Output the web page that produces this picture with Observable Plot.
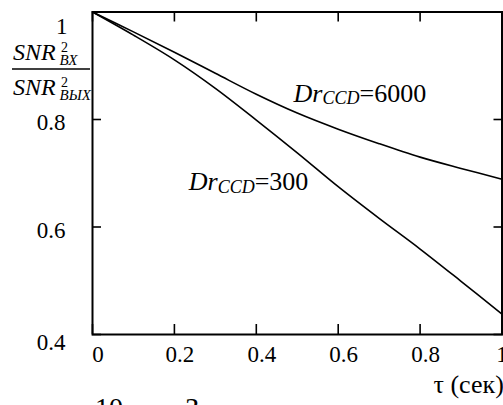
<!DOCTYPE html>
<html>
<head>
<meta charset="utf-8">
<script src="https://cdn.jsdelivr.net/npm/d3@7"></script>
<script src="https://cdn.jsdelivr.net/npm/@observablehq/plot@0.6"></script>
<style>
  html, body { margin: 0; padding: 0; background: #fff; }
  #chart svg { display: block; }
</style>
</head>
<body>
<div id="chart"></div>
<script>
// ---- data ----
const tau     = [0, 0.1, 0.2, 0.3, 0.4, 0.5, 0.6, 0.7, 0.8, 0.9, 1];
const snr300  = [1, 0.957, 0.911, 0.858, 0.799, 0.738, 0.675, 0.616, 0.559, 0.499, 0.438];
const snr6000 = [1, 0.963, 0.925, 0.886, 0.847, 0.812, 0.782, 0.755, 0.730, 0.709, 0.689];
const seriesValues = ["300", "6000"];
const xTicks = [0, 0.2, 0.4, 0.6, 0.8, 1];
const yTicks = [0.4, 0.6, 0.8, 1];
// annotation anchors (data coordinates)
const annotTau = [0.235, 0.491];
const annotSnr = [0.668, 0.833];

const serif = "'Liberation Serif', 'Times New Roman', serif";
const fmt = d => String(d);

const rows = [];
tau.forEach((t, i) => {
  rows.push({tau: t, snr: snr300[i], series: seriesValues[0]});
  rows.push({tau: t, snr: snr6000[i], series: seriesValues[1]});
});
const annots = seriesValues.map((v, i) => ({tau: annotTau[i], snr: annotSnr[i], label: "Dr|CCD|=" + v}));

const chart = Plot.plot({
  width: 503,
  height: 405,
  marginLeft: 92,
  marginRight: 1.5,
  marginTop: 11.5,
  marginBottom: 71,
  style: {fontFamily: serif, fontSize: "23px", color: "#000", background: "#fff", overflow: "hidden"},
  x: {domain: [0, 1]},
  y: {domain: [0.4, 1]},
  marks: [
    // inward ticks on all four sides
    Plot.axisX(xTicks, {anchor: "bottom", tickSize: -10, tickFormat: () => "", label: null, strokeWidth: 1.6}),
    Plot.axisX(xTicks, {anchor: "top", tickSize: -9, tickFormat: () => "", label: null, strokeWidth: 1.6}),
    Plot.axisY(yTicks, {anchor: "left", tickSize: -9, tickFormat: () => "", label: null, strokeWidth: 1.6}),
    Plot.axisY(yTicks, {anchor: "right", tickSize: -9, tickFormat: () => "", label: null, strokeWidth: 1.6}),
    // tick labels
    Plot.axisX(xTicks.slice(0, -1), {anchor: "bottom", tickSize: 0, tickPadding: 11, dx: 5.5, fontSize: 23, tickFormat: fmt, label: null}),
    Plot.axisX(xTicks.slice(-1), {anchor: "bottom", tickSize: 0, tickPadding: 11, dx: 0, fontSize: 23, tickFormat: fmt, label: null}),
    Plot.axisY(yTicks.slice(-1), {anchor: "left", tickSize: 0, tickPadding: 25, dy: 15, fontSize: 23, tickFormat: fmt, label: null}),
    Plot.axisY([0.8, 0.6], {anchor: "left", tickSize: 0, tickPadding: 27, dy: 3.5, fontSize: 23, tickFormat: fmt, label: null}),
    Plot.axisY(yTicks.slice(0, 1), {anchor: "left", tickSize: 0, tickPadding: 27, dy: 8, fontSize: 23, tickFormat: fmt, label: null}),
    Plot.frame({stroke: "#000", strokeWidth: 2}),
    Plot.line(rows, {x: "tau", y: "snr", z: "series", stroke: "#000", strokeWidth: 1.6, curve: "catmull-rom"}),
    Plot.text(annots, {x: "tau", y: "snr", text: "label", textAnchor: "start", lineAnchor: "bottom", fontSize: 26, fontFamily: serif}),
    Plot.text(["τ (сек)"], {frameAnchor: "bottom-right", dx: -68.5, dy: 58, textAnchor: "start", lineAnchor: "bottom", fontSize: 26, fontFamily: serif})
  ]
});

document.getElementById("chart").appendChild(chart);

// rich text (italic + subscript) for the series annotations
d3.select(chart).selectAll("text").each(function() {
  const s = this.textContent;
  if (!s.startsWith("Dr|")) return;
  const [main, sub, val] = s.split("|");
  const t = d3.select(this);
  t.text(null);
  t.append("tspan").attr("font-style", "italic").text(main);
  t.append("tspan").attr("font-style", "italic").attr("font-size", 18).attr("dy", 2.5).text(sub);
  t.append("tspan").attr("dy", -2.5).text(val);
});

// y-axis label: SNR²_ВХ / SNR²_ВЫХ as a fraction in the left margin
const svg = d3.select(chart);
const yl = svg.append("g").attr("font-family", serif).attr("text-anchor", "start").attr("fill", "#000");
function snrTerm(baseY, sub) {
  yl.append("text").attr("x", 13).attr("y", baseY).attr("font-size", 24).attr("font-style", "italic").text("SNR");
  yl.append("text").attr("x", 61).attr("y", baseY - 8.5).attr("font-size", 14).text("2");
  yl.append("text").attr("x", 59.5).attr("y", baseY + 5).attr("font-size", 15).attr("font-style", "italic").text(sub);
}
snrTerm(60, "ВХ");
yl.append("line").attr("x1", 12).attr("x2", 90).attr("y1", 69).attr("y2", 69).attr("stroke", "#000").attr("stroke-width", 1.3);
snrTerm(95, "ВЫХ");

// figure caption (cut off by the bottom edge of the picture)
const cap = svg.append("g").attr("font-family", serif).attr("text-anchor", "start").attr("font-size", 28).attr("fill", "#000");
cap.append("text").attr("x", 95).attr("y", 417).text("10");
cap.append("text").attr("x", 185).attr("y", 417).text("З");
</script>
</body>
</html>
